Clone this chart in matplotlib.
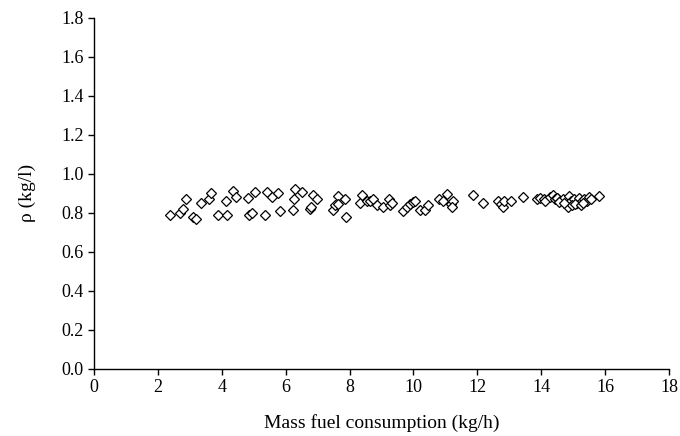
import matplotlib
matplotlib.use("Agg")
import matplotlib.pyplot as plt
import numpy as np

# mass fuel consumption (kg/h) and density (kg/l)
fuel = [2.38, 2.71, 2.80, 2.88, 3.11, 3.19, 3.34, 3.61, 3.68, 3.87,
        4.17, 4.13, 4.34, 4.45,
        4.86, 4.94, 4.83, 5.04, 5.35, 5.41, 5.56, 5.77, 5.82, 6.24,
        6.26, 6.29, 6.50, 6.76, 6.79, 6.87, 6.99,
        7.47, 7.55, 7.65, 7.65, 7.86, 7.89, 8.33, 8.38, 8.54, 8.64,
        8.73, 8.85, 9.06, 9.22, 9.27, 9.32,
        9.66, 9.79, 9.89, 10.00, 10.05, 10.20, 10.36, 10.44, 10.81, 10.94,
        11.06, 11.17, 11.23, 11.20, 11.86,
        12.17, 12.66, 12.73, 12.80, 12.84, 13.05, 13.42, 13.86, 13.96, 14.07,
        14.12, 14.28, 14.38, 14.43, 14.50,
        14.49, 14.59, 14.69, 14.80, 14.87, 14.93, 15.01, 15.11, 15.18, 15.27,
        15.35, 15.42, 15.48, 15.56, 15.81, 14.85, 14.96, 15.06, 15.25, 15.32,
        14.54, 14.72]
rho = [0.79, 0.80, 0.82, 0.87, 0.78, 0.77, 0.85, 0.87, 0.90, 0.79,
       0.79, 0.86, 0.91, 0.88,
       0.79, 0.80, 0.875, 0.905, 0.79, 0.905, 0.88, 0.90, 0.81, 0.815,
       0.87, 0.92, 0.905, 0.82, 0.83, 0.89, 0.87,
       0.815, 0.84, 0.885, 0.845, 0.87, 0.78, 0.85, 0.89, 0.86, 0.86,
       0.87, 0.84, 0.83, 0.87, 0.84, 0.85,
       0.81, 0.83, 0.845, 0.855, 0.86, 0.815, 0.815, 0.84, 0.87, 0.86,
       0.895, 0.845, 0.86, 0.83, 0.89,
       0.85, 0.86, 0.845, 0.83, 0.86, 0.86, 0.88, 0.87, 0.875, 0.87,
       0.86, 0.88, 0.89, 0.87, 0.875,
       0.875, 0.86, 0.87, 0.84, 0.885, 0.86, 0.87, 0.85, 0.875, 0.86,
       0.87, 0.86, 0.88, 0.87, 0.885, 0.83, 0.84, 0.845, 0.84, 0.85,
       0.855, 0.85]

plt.rcParams['font.family'] = ['Liberation Serif', 'DejaVu Serif']

fig = plt.figure(figsize=(6.8, 4.36), dpi=100)
ax = fig.add_axes([0.138, 0.154, 0.846, 0.805])

ax.plot(fuel, rho, linestyle='none', marker='D', markersize=5,
        markerfacecolor='white', markeredgecolor='black', markeredgewidth=0.9)

ax.set_xlim(0, 18)
ax.set_ylim(0, 1.8)
ax.set_xticks(np.arange(0, 19, 2))
ax.set_yticks(np.arange(0, 1.81, 0.2))
ax.set_yticklabels(['%.1f' % v for v in np.arange(0, 1.81, 0.2)])

for s in ['top', 'right']:
    ax.spines[s].set_visible(False)
for s in ['left', 'bottom']:
    ax.spines[s].set_linewidth(1.0)

ax.tick_params(direction='out', length=4, width=1.0, labelsize=13, colors='black')
ax.set_xlabel('Mass fuel consumption (kg/h)', fontsize=14, labelpad=13)
ax.set_ylabel('ρ (kg/l)', fontsize=14, labelpad=18)

fig.savefig('out.png', dpi=100)
